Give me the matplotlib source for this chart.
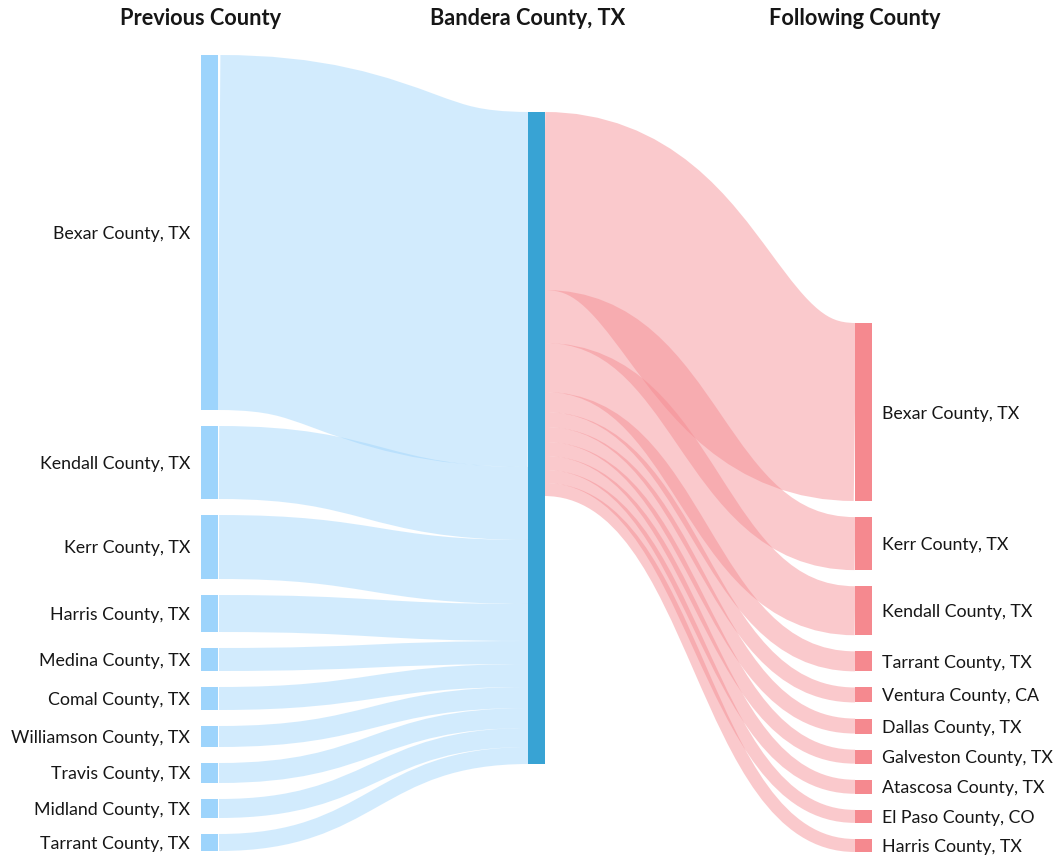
import matplotlib
matplotlib.use("Agg")
import matplotlib.pyplot as plt
from matplotlib.path import Path
from matplotlib.patches import PathPatch, Rectangle

# --- данные ---
center_name = "Bandera County, TX"
titles = ["Previous County", center_name, "Following County"]

prev_counties = ["Bexar County, TX", "Kendall County, TX", "Kerr County, TX", "Harris County, TX",
                 "Medina County, TX", "Comal County, TX", "Williamson County, TX", "Travis County, TX",
                 "Midland County, TX", "Tarrant County, TX"]
prev_values = [355, 73, 64, 37, 23, 23, 21, 20, 19, 17]

next_counties = ["Bexar County, TX", "Kerr County, TX", "Kendall County, TX", "Tarrant County, TX",
                 "Ventura County, CA", "Dallas County, TX", "Galveston County, TX", "Atascosa County, TX",
                 "El Paso County, CO", "Harris County, TX"]
next_values = [178, 53, 49, 20, 15, 15, 14, 14, 13, 13]

# --- оформление ---
W, H, DPI = 1055, 859, 100
NODE_W = 17
X_LEFT, X_MID, X_RIGHT = 201, 528, 855
LEFT_TOP, MID_TOP, RIGHT_TOP, BOTTOM = 55, 112, 323, 852
GAP = 16

LEFT_COLOR = "#9dd4fc"
MID_COLOR = "#38a3d4"
RIGHT_COLOR = "#f5898f"
LINK_ALPHA = 0.45
TEXT_COLOR = "#161616"
LABEL_SIZE = 12.8
TITLE_SIZE = 15.7

plt.rcParams['font.family'] = ['Lato', 'DejaVu Sans']


def stack(values, top, gap):
    """Верхние границы узлов в колонке."""
    tops = []
    y = top
    for v in values:
        tops.append(y)
        y += v + gap
    return tops


def link(ax, x0, y0, x1, y1, w, color):
    """Поток как толстая кривая Безье (как в d3-sankey)."""
    xm = (x0 + x1) / 2
    path = Path([(x0, y0), (xm, y0), (xm, y1), (x1, y1)],
                [Path.MOVETO, Path.CURVE4, Path.CURVE4, Path.CURVE4])
    ax.add_patch(PathPatch(path, fill=False, edgecolor=color, alpha=LINK_ALPHA,
                           lw=w * 72 / DPI, capstyle='butt', zorder=1))


def node(ax, x, y, h, color):
    ax.add_patch(Rectangle((x, y), NODE_W, h, facecolor=color, edgecolor='none', zorder=3))


fig = plt.figure(figsize=(W / DPI, H / DPI), dpi=DPI)
ax = fig.add_axes([0, 0, 1, 1])
ax.set_xlim(0, W)
ax.set_ylim(H, 0)
ax.axis('off')

left_tops = stack(prev_values, LEFT_TOP, GAP)
right_gap = (BOTTOM - RIGHT_TOP - sum(next_values)) / (len(next_values) - 1)
right_tops = stack(next_values, RIGHT_TOP, right_gap)

# левые потоки
y_in = MID_TOP
for name, v, top in zip(prev_counties, prev_values, left_tops):
    link(ax, X_LEFT + NODE_W + 1, top + v / 2, X_MID + 1, y_in + v / 2, v, LEFT_COLOR)
    node(ax, X_LEFT, top, v, LEFT_COLOR)
    ax.text(X_LEFT - 11, top + v / 2 + 1.5, name, ha='right', va='center',
            fontsize=LABEL_SIZE, color=TEXT_COLOR)
    y_in += v

# правые потоки
y_out = MID_TOP
for name, v, top in zip(next_counties, next_values, right_tops):
    link(ax, X_MID + NODE_W - 1, y_out + v / 2, X_RIGHT, top + v / 2, v, RIGHT_COLOR)
    node(ax, X_RIGHT, top, v, RIGHT_COLOR)
    ax.text(X_RIGHT + NODE_W + 10, top + v / 2 + 1.5, name, ha='left', va='center',
            fontsize=LABEL_SIZE, color=TEXT_COLOR)
    y_out += v

node(ax, X_MID, MID_TOP, sum(prev_values), MID_COLOR)

for x, t in zip([X_LEFT, X_MID, X_RIGHT], titles):
    ax.text(x, 18.5, t, ha='center', va='center', fontsize=TITLE_SIZE, fontweight='bold',
            color=TEXT_COLOR)

fig.savefig("out.png", dpi=DPI)
